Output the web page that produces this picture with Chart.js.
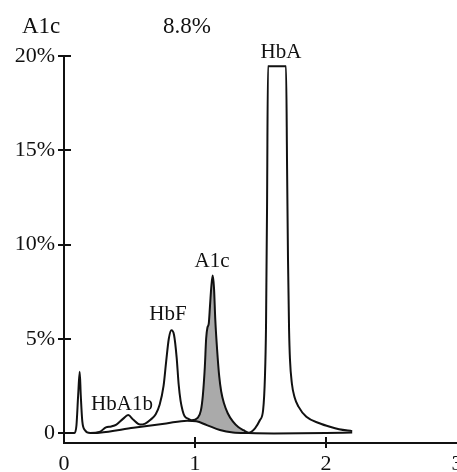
<!DOCTYPE html>
<html>
<head>
<meta charset="utf-8">
<script src="https://cdn.jsdelivr.net/npm/chart.js@4"></script>
<style>
  html, body { margin: 0; padding: 0; overflow: hidden; background: #fff; }
  canvas { display: block; }
</style>
</head>
<body>
<canvas id="chromChart" width="477" height="472"></canvas>
<script>
// detector signal, % of total
const signalX = [0, 0.08, 0.095, 0.108, 0.12, 0.128, 0.14, 0.16, 0.2, 0.27, 0.32, 0.36, 0.4, 0.45, 0.49, 0.53, 0.58, 0.62,
  0.66, 0.7, 0.73, 0.76, 0.78, 0.8, 0.82, 0.84, 0.86, 0.875, 0.89, 0.905, 0.92, 0.95, 0.975, 1.02, 1.045, 1.06, 1.075,
  1.085, 1.095, 1.105, 1.115, 1.125, 1.135, 1.145, 1.155, 1.17, 1.185, 1.2, 1.22, 1.25, 1.29, 1.33, 1.37, 1.41, 1.458,
  1.496, 1.52, 1.534, 1.542, 1.55, 1.557, 1.695, 1.703, 1.71, 1.718, 1.725, 1.74, 1.76, 1.79, 1.85, 1.95, 2.03, 2.1, 2.2];
const signalY = [0, 0, 0.4, 2.0, 3.25, 2.0, 0.6, 0.15, 0.0, 0.05, 0.3, 0.35, 0.45, 0.75, 0.95, 0.7, 0.45, 0.5,
  0.7, 1.0, 1.5, 2.5, 3.8, 5.0, 5.45, 5.2, 4.0, 2.6, 1.7, 1.2, 0.9, 0.75, 0.68, 0.8, 1.2, 2.0, 3.5,
  5.0, 5.6, 5.8, 6.8, 7.8, 8.35, 7.7, 6.0, 4.3, 3.0, 2.2, 1.6, 1.05, 0.6, 0.32, 0.15, 0.02, 0.25,
  0.69, 1.22, 3.0, 5.6, 12, 19.45, 19.45, 14, 9.2, 5.5, 3.9, 2.6, 1.9, 1.4, 0.86, 0.52, 0.33, 0.2, 0.1];
// drawn baseline under the peaks
const baseX = [0.2, 0.27, 0.53, 0.78, 0.94, 1.01, 1.09, 1.19, 1.29, 1.41, 1.6, 2.0, 2.2];
const baseY = [0.0, 0.02, 0.28, 0.51, 0.65, 0.62, 0.42, 0.16, 0.03, 0.0, -0.02, 0.0, 0.03];
const a1cFrom = 0.975, a1cTo = 1.41;

const xTicks = [0, 1, 2, 3];
const yTicks = [0, 5, 10, 15, 20];
const peakNames = ['HbA1b', 'HbF', 'A1c', 'HbA'];
const peakLabelX = [0.443, 0.794, 1.13, 1.656];
const peakLabelY = [1.22, 6.0, 8.8, 19.9];
const headName = 'A1c', headValue = '8.8%';

const serif = '"Liberation Serif", "Times New Roman", serif';
const ink = '#111';

const pts = (xs, ys) => xs.map((x, i) => ({ x, y: ys[i] }));
const signal = pts(signalX, signalY);
const a1cArea = signal.filter(p => p.x >= a1cFrom && p.x <= a1cTo);

const decorations = {
  id: 'decorations',
  afterDraw(chart) {
    const { ctx, scales: { x, y } } = chart;
    ctx.save();
    ctx.strokeStyle = ink;
    ctx.lineWidth = 2;
    ctx.beginPath();
    yTicks.forEach(v => {
      const py = Math.round(y.getPixelForValue(v));
      ctx.moveTo(x.left - 6, py); ctx.lineTo(x.left + 7, py);
    });
    [1, 2].forEach(v => {
      const px = Math.round(x.getPixelForValue(v));
      ctx.moveTo(px, y.bottom - 6); ctx.lineTo(px, y.bottom + 5);
    });
    ctx.stroke();

    ctx.fillStyle = ink;
    ctx.textAlign = 'center';
    ctx.textBaseline = 'alphabetic';
    ctx.font = '21px ' + serif;
    peakNames.forEach((n, i) => {
      ctx.fillText(n, x.getPixelForValue(peakLabelX[i]), y.getPixelForValue(peakLabelY[i]));
    });
    ctx.textAlign = 'left';
    ctx.font = '23px ' + serif;
    ctx.fillText(headName, 22, 33);
    ctx.fillText(headValue, 163, 33);
    ctx.restore();
  }
};

new Chart(document.getElementById('chromChart'), {
  type: 'line',
  data: {
    datasets: [
      { data: signal, borderColor: ink, borderWidth: 2, pointRadius: 0, fill: false, cubicInterpolationMode: 'monotone' },
      { data: pts(baseX, baseY), borderColor: ink, borderWidth: 2, pointRadius: 0, fill: false, cubicInterpolationMode: 'monotone' },
      { data: a1cArea, borderWidth: 0, borderColor: 'rgba(0,0,0,0)', pointRadius: 0, backgroundColor: '#aaaaaa',
        fill: { target: 1 }, cubicInterpolationMode: 'monotone' }
    ]
  },
  options: {
    responsive: false,
    animation: false,
    events: [],
    layout: { padding: { top: 56, right: 20, left: 0, bottom: 0 } },
    plugins: { legend: { display: false }, tooltip: { enabled: false } },
    scales: {
      x: {
        type: 'linear', min: 0, max: 3,
        afterBuildTicks: s => { s.ticks = xTicks.map(v => ({ value: v })); },
        afterFit: s => { s.height = 29; },
        grid: { display: false },
        border: { display: true, color: ink, width: 2 },
        ticks: { color: ink, font: { family: serif, size: 22 }, padding: 0, maxRotation: 0, callback: v => String(v) }
      },
      y: {
        type: 'linear', min: -0.53, max: 20,
        afterBuildTicks: s => { s.ticks = yTicks.map(v => ({ value: v })); },
        afterFit: s => { s.width = 64; },
        grid: { display: false },
        border: { display: true, color: ink, width: 2 },
        ticks: { color: ink, font: { family: serif, size: 22 }, padding: 1, callback: v => v === 0 ? '0' : v + '%' }
      }
    }
  },
  plugins: [decorations]
});
</script>
</body>
</html>
